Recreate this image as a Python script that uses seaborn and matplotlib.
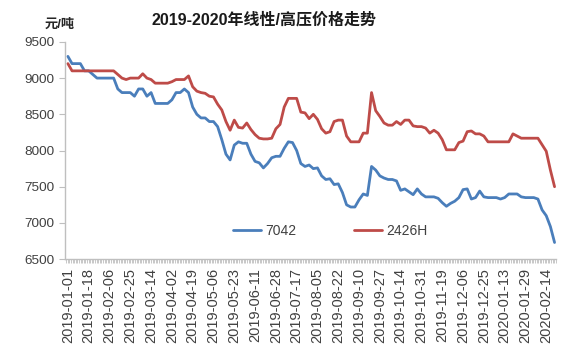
import matplotlib
matplotlib.use("Agg")
import matplotlib.pyplot as plt
from matplotlib.ticker import MultipleLocator, FixedLocator
import numpy as np
import pandas as pd
import seaborn as sns

tick_labels = ["2019-01-01", "2019-01-18", "2019-02-06", "2019-02-25", "2019-03-14",
               "2019-04-02", "2019-04-19", "2019-05-06", "2019-05-23", "2019-06-11",
               "2019-06-28", "2019-07-17", "2019-08-05", "2019-08-22", "2019-09-10",
               "2019-09-27", "2019-10-14", "2019-10-31", "2019-11-19", "2019-12-06",
               "2019-12-25", "2020-01-13", "2020-01-29", "2020-02-14"]

s7042 = [9300, 9200, 9200, 9200, 9100, 9100, 9050, 9000, 9000, 9000,
         9000, 9000, 8850, 8800, 8800, 8800, 8750, 8850, 8850, 8750,
         8800, 8650, 8650, 8650, 8650, 8700, 8800, 8800, 8850, 8800,
         8600, 8500, 8450, 8450, 8400, 8400, 8330, 8150, 7950, 7870,
         8075, 8120, 8100, 8100, 7950, 7850, 7830, 7760, 7820, 7900,
         7920, 7920, 8030, 8120, 8110, 8000, 7820, 7780, 7800, 7750,
         7760, 7650, 7600, 7610, 7530, 7540, 7420, 7250, 7220, 7220,
         7320, 7400, 7380, 7780, 7730, 7650, 7620, 7600, 7600, 7580,
         7450, 7470, 7430, 7390, 7470, 7400, 7360, 7360, 7360, 7340,
         7280, 7230, 7270, 7300, 7350, 7460, 7470, 7330, 7350, 7440,
         7360, 7350, 7350, 7350, 7330, 7350, 7400, 7400, 7400, 7360,
         7350, 7350, 7350, 7330, 7180, 7100, 6950, 6730]

s2426h = [9200, 9100, 9100, 9100, 9100, 9100, 9100, 9100, 9100, 9100,
          9100, 9100, 9050, 9000, 8980, 9000, 9000, 9000, 9060, 9000,
          8980, 8930, 8930, 8930, 8930, 8950, 8980, 8980, 8980, 9030,
          8880, 8820, 8800, 8790, 8750, 8740, 8640, 8560, 8400, 8280,
          8420, 8320, 8310, 8380, 8290, 8220, 8170, 8160, 8160, 8170,
          8300, 8360, 8600, 8720, 8720, 8720, 8530, 8520, 8440, 8500,
          8430, 8300, 8240, 8260, 8400, 8420, 8420, 8200, 8120, 8120,
          8120, 8240, 8240, 8800, 8550, 8470, 8380, 8350, 8350, 8400,
          8360, 8420, 8420, 8340, 8330, 8330, 8310, 8240, 8280, 8240,
          8150, 8010, 8010, 8010, 8110, 8130, 8260, 8270, 8230, 8230,
          8200, 8120, 8120, 8120, 8120, 8120, 8120, 8230, 8200, 8170,
          8170, 8170, 8170, 8170, 8080, 7990, 7730, 7500]

series_names = ["7042", "2426H"]
colors = ["#4A7EBB", "#BE4B48"]

n = len(s7042)
df = pd.DataFrame({
    "idx": list(range(n)) * 2,
    "price": s7042 + s2426h,
    "series": [series_names[0]] * n + [series_names[1]] * n,
})

sns.set_style("white")
plt.rcParams["font.family"] = ["Liberation Sans", "Noto Sans CJK SC", "DejaVu Sans"]

fig = plt.figure(figsize=(5.67, 3.55), dpi=100)
ax = fig.add_axes([0.1146, 0.27, 0.8664, 0.612])

sns.lineplot(data=df, x="idx", y="price", hue="series", palette=colors,
             hue_order=series_names, linewidth=2.0, ax=ax, legend=True)

ax.set_ylim(6500, 9500)
ax.set_xlim(-0.7, n - 0.6)
ax.yaxis.set_major_locator(MultipleLocator(500))
step = 5
ax.xaxis.set_major_locator(FixedLocator(list(range(0, step * len(tick_labels), step))))
ax.set_xticklabels(tick_labels, rotation=90, fontsize=10.5, color="#404040")
ax.xaxis.set_minor_locator(MultipleLocator(step / 13))
ax.tick_params(axis="y", labelsize=9.7, colors="#404040", length=4, width=0.8,
               direction="out", left=True, color="#BFBFBF")
ax.tick_params(axis="y", labelcolor="#404040")
ax.tick_params(axis="x", which="both", direction="out", bottom=True, color="#BFBFBF",
               width=0.6, labelcolor="#404040")
ax.tick_params(axis="x", which="major", length=3)
ax.tick_params(axis="x", which="minor", length=3)
ax.set_xlabel("")
ax.set_ylabel("")
for side in ["top", "right"]:
    ax.spines[side].set_visible(False)
for side in ["left", "bottom"]:
    ax.spines[side].set_color("#BFBFBF")
    ax.spines[side].set_linewidth(1.0)

leg = ax.legend(loc="center", bbox_to_anchor=(0.54, 0.13), ncol=2, frameon=False,
                fontsize=10, handlelength=2.0, columnspacing=4.2, handletextpad=0.3)
for t in leg.get_texts():
    t.set_color("#404040")

fig.text(0.465, 0.945, "2019-2020年线性/高压价格走势", ha="center", va="center",
         fontsize=11.5, fontweight="bold", color="#1a1a1a")
fig.text(0.105, 0.93, "元/吨", ha="center", va="center", fontsize=9.5,
         fontweight="bold", color="#262626")

fig.savefig("out.png", dpi=100)
